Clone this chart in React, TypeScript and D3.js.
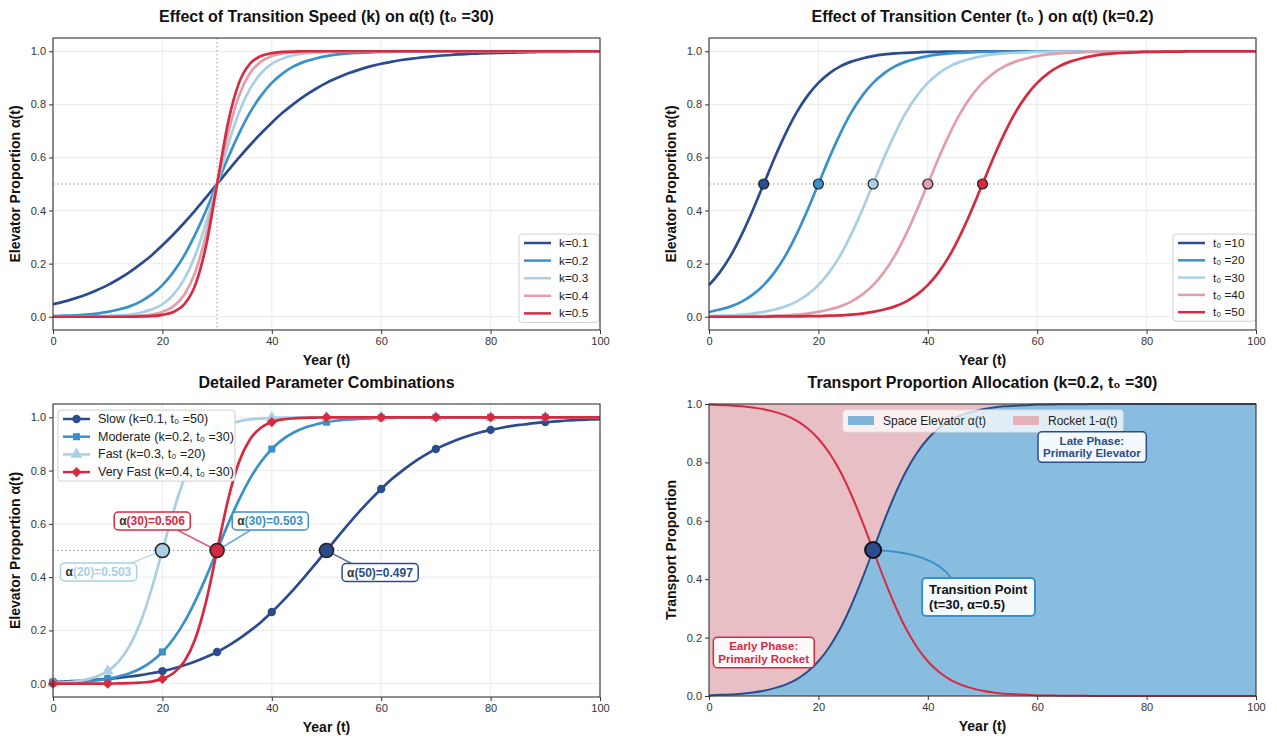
import { useEffect, useRef } from 'react'
import * as d3 from 'd3'

// sample years (every 2 years)
const YEARS = [0, 2, 4, 6, 8, 10, 12, 14, 16, 18, 20, 22, 24, 26, 28, 30, 32, 34, 36, 38, 40, 42, 44, 46, 48, 50,
  52, 54, 56, 58, 60, 62, 64, 66, 68, 70, 72, 74, 76, 78, 80, 82, 84, 86, 88, 90, 92, 94, 96, 98, 100]

// alpha(t) values
const K01_T30 = [0.047, 0.057, 0.069, 0.083, 0.100, 0.119, 0.142, 0.168, 0.198, 0.231, 0.269, 0.310, 0.354, 0.401, 0.450, 0.500,
  0.550, 0.599, 0.646, 0.690, 0.731, 0.769, 0.802, 0.832, 0.858, 0.881, 0.900, 0.917, 0.931, 0.943, 0.953, 0.961, 0.968, 0.973,
  0.978, 0.982, 0.985, 0.988, 0.990, 0.992, 0.993, 0.994, 0.995, 0.996, 0.997, 0.998, 0.998, 0.998, 0.999, 0.999, 0.999]
const K02_T30 = [0.002, 0.004, 0.005, 0.008, 0.012, 0.018, 0.027, 0.039, 0.057, 0.083, 0.119, 0.168, 0.231, 0.310, 0.401, 0.500,
  0.599, 0.690, 0.769, 0.832, 0.881, 0.917, 0.943, 0.961, 0.973, 0.982, 0.988, 0.992, 0.994, 0.996, 0.998, 0.998, 0.999, 0.999,
  0.999, 1, 1, 1, 1, 1, 1, 1, 1, 1, 1, 1, 1, 1, 1, 1, 1]
const K03_T30 = [0, 0, 0, 0.001, 0.001, 0.002, 0.005, 0.008, 0.015, 0.027, 0.047, 0.083, 0.142, 0.231, 0.354, 0.500,
  0.646, 0.769, 0.858, 0.917, 0.953, 0.973, 0.985, 0.992, 0.995, 0.998, 0.999, 0.999,
  1, 1, 1, 1, 1, 1, 1, 1, 1, 1, 1, 1, 1, 1, 1, 1, 1, 1, 1, 1, 1, 1, 1]
const K04_T30 = [0, 0, 0, 0, 0, 0, 0.001, 0.002, 0.004, 0.008, 0.018, 0.039, 0.083, 0.168, 0.310, 0.500,
  0.690, 0.832, 0.917, 0.961, 0.982, 0.992, 0.996, 0.998, 0.999,
  1, 1, 1, 1, 1, 1, 1, 1, 1, 1, 1, 1, 1, 1, 1, 1, 1, 1, 1, 1, 1, 1, 1, 1, 1, 1]
const K05_T30 = [0, 0, 0, 0, 0, 0, 0, 0, 0.001, 0.002, 0.007, 0.018, 0.047, 0.119, 0.269, 0.500,
  0.731, 0.881, 0.953, 0.982, 0.993, 0.998, 0.999,
  1, 1, 1, 1, 1, 1, 1, 1, 1, 1, 1, 1, 1, 1, 1, 1, 1, 1, 1, 1, 1, 1, 1, 1, 1, 1, 1, 1]

const K02_T10 = [0.119, 0.168, 0.231, 0.310, 0.401, 0.500, 0.599, 0.690, 0.769, 0.832, 0.881, 0.917, 0.943, 0.961, 0.973, 0.982,
  0.988, 0.992, 0.994, 0.996, 0.998, 0.998, 0.999, 0.999, 0.999,
  1, 1, 1, 1, 1, 1, 1, 1, 1, 1, 1, 1, 1, 1, 1, 1, 1, 1, 1, 1, 1, 1, 1, 1, 1, 1]
const K02_T20 = [0.018, 0.027, 0.039, 0.057, 0.083, 0.119, 0.168, 0.231, 0.310, 0.401, 0.500, 0.599, 0.690, 0.769, 0.832, 0.881,
  0.917, 0.943, 0.961, 0.973, 0.982, 0.988, 0.992, 0.994, 0.996, 0.998, 0.998, 0.999, 0.999, 0.999,
  1, 1, 1, 1, 1, 1, 1, 1, 1, 1, 1, 1, 1, 1, 1, 1, 1, 1, 1, 1, 1]
const K02_T40 = [0, 0.001, 0.001, 0.001, 0.002, 0.002, 0.004, 0.005, 0.008, 0.012, 0.018, 0.027, 0.039, 0.057, 0.083, 0.119,
  0.168, 0.231, 0.310, 0.401, 0.500, 0.599, 0.690, 0.769, 0.832, 0.881, 0.917, 0.943, 0.961, 0.973, 0.982, 0.988, 0.992, 0.994,
  0.996, 0.998, 0.998, 0.999, 0.999, 1, 1, 1, 1, 1, 1, 1, 1, 1, 1, 1, 1]
const K02_T50 = [0, 0, 0, 0, 0, 0, 0.001, 0.001, 0.001, 0.002, 0.002, 0.004, 0.005, 0.008, 0.012, 0.018, 0.027, 0.039, 0.057,
  0.083, 0.119, 0.168, 0.231, 0.310, 0.401, 0.500, 0.599, 0.690, 0.769, 0.832, 0.881, 0.917, 0.943, 0.961, 0.973, 0.982, 0.988,
  0.992, 0.994, 0.996, 0.998, 0.998, 0.999, 0.999, 1, 1, 1, 1, 1, 1, 1]

const K01_T50 = [0.007, 0.008, 0.010, 0.012, 0.015, 0.018, 0.022, 0.027, 0.032, 0.039, 0.047, 0.057, 0.069, 0.083, 0.100, 0.119,
  0.142, 0.168, 0.198, 0.231, 0.269, 0.310, 0.354, 0.401, 0.450, 0.500, 0.550, 0.599, 0.646, 0.690, 0.731, 0.769, 0.802, 0.832,
  0.858, 0.881, 0.900, 0.917, 0.931, 0.943, 0.953, 0.961, 0.968, 0.973, 0.978, 0.982, 0.985, 0.988, 0.990, 0.992, 0.993]
const K03_T20 = [0.002, 0.005, 0.008, 0.015, 0.027, 0.047, 0.083, 0.142, 0.231, 0.354, 0.500, 0.646, 0.769, 0.858, 0.917, 0.953,
  0.973, 0.985, 0.992, 0.995, 0.998, 0.999, 0.999,
  1, 1, 1, 1, 1, 1, 1, 1, 1, 1, 1, 1, 1, 1, 1, 1, 1, 1, 1, 1, 1, 1, 1, 1, 1, 1, 1, 1]

const X_TICKS = [0, 20, 40, 60, 80, 100]
const Y_TICKS = [0, 0.2, 0.4, 0.6, 0.8, 1.0]

const K_LABELS = ['k=0.1', 'k=0.2', 'k=0.3', 'k=0.4', 'k=0.5']
const K_SERIES = [K01_T30, K02_T30, K03_T30, K04_T30, K05_T30]

const T0_LABELS = ['t₀ =10', 't₀ =20', 't₀ =30', 't₀ =40', 't₀ =50']
const T0_CENTERS = [10, 20, 30, 40, 50]
const T0_SERIES = [K02_T10, K02_T20, K02_T30, K02_T40, K02_T50]

const COMBO_LABELS = ['Slow (k=0.1, t₀ =50)', 'Moderate (k=0.2, t₀ =30)', 'Fast (k=0.3, t₀ =20)', 'Very Fast (k=0.4, t₀ =30)']
const COMBO_SERIES = [K01_T50, K02_T30, K03_T20, K04_T30]
const COMBO_CENTERS = [50, 30, 20, 30]
const COMBO_NOTES = ['(50)=0.497', '(30)=0.503', '(20)=0.503', '(30)=0.506']
const MARK_YEARS = [0, 10, 20, 30, 40, 50, 60, 70, 80, 90]

const ALLOC_ELEVATOR = K02_T30

const FONT = '"Liberation Sans", Arial, Helvetica, sans-serif'
const DARK = '#2b4c8c', MID = '#3a91c9', LIGHT = '#a9cfe6', PINK = '#e09fa9', RED = '#d62a40'
const PALETTE = [DARK, MID, LIGHT, PINK, RED]
const COMBO_COLORS = [DARK, MID, LIGHT, RED]
const COMBO_SYMBOLS = [d3.symbolCircle, d3.symbolSquare, d3.symbolTriangle, d3.symbolSquare]

type G = d3.Selection<SVGGElement, unknown, null, undefined>
type Lin = d3.ScaleLinear<number, number>

function grid(g: G, x: Lin, y: Lin) {
  const [x0, x1] = x.range(), [yb, yt] = y.range()
  X_TICKS.forEach(v => g.append('line').attr('x1', x(v)).attr('x2', x(v)).attr('y1', yt).attr('y2', yb)
    .attr('stroke', '#e6e6e6').attr('stroke-width', 0.8))
  Y_TICKS.forEach(v => g.append('line').attr('x1', x0).attr('x2', x1).attr('y1', y(v)).attr('y2', y(v))
    .attr('stroke', '#e6e6e6').attr('stroke-width', 0.8))
}

function axes(g: G, x: Lin, y: Lin, title: string, ylabel: string) {
  const [x0, x1] = x.range(), [yb, yt] = y.range()
  const style = (a: any) => {
    a.select('.domain').remove()
    a.selectAll('text').attr('font-size', 11).attr('fill', '#333').attr('font-family', FONT)
    a.selectAll('line').attr('stroke', '#333')
  }
  g.append('g').attr('transform', `translate(0,${yb})`)
    .call(d3.axisBottom(x).tickValues(X_TICKS).tickSize(4).tickPadding(3).tickFormat(d3.format('d'))).call(style)
  g.append('g').attr('transform', `translate(${x0},0)`)
    .call(d3.axisLeft(y).tickValues(Y_TICKS).tickSize(4).tickPadding(3).tickFormat(d3.format('.1f'))).call(style)
  g.append('rect').attr('x', x0).attr('y', yt).attr('width', x1 - x0).attr('height', yb - yt)
    .attr('fill', 'none').attr('stroke', '#333').attr('stroke-width', 1.1)
  const cx = (x0 + x1) / 2
  g.append('text').attr('x', cx).attr('y', yt - 16).attr('text-anchor', 'middle').attr('font-family', FONT)
    .attr('font-weight', 'bold').attr('font-size', 16).attr('fill', '#111').text(title)
  g.append('text').attr('x', cx).attr('y', yb + 35).attr('text-anchor', 'middle').attr('font-family', FONT)
    .attr('font-weight', 'bold').attr('font-size', 14).attr('fill', '#111').text('Year (t)')
  g.append('text').attr('transform', `translate(${x0 - 33},${(yt + yb) / 2}) rotate(-90)`).attr('text-anchor', 'middle')
    .attr('font-family', FONT).attr('font-weight', 'bold').attr('font-size', 14).attr('fill', '#111').text(ylabel)
}

function refLine(g: G, x1: number, y1: number, x2: number, y2: number) {
  g.append('line').attr('x1', x1).attr('y1', y1).attr('x2', x2).attr('y2', y2)
    .attr('stroke', '#999').attr('stroke-width', 1).attr('stroke-dasharray', '1.5,2.5')
}

// text box with rounded border; lines are lists of [text, colour] parts
function textBox(g: G, x: number, y: number, lines: [string, string][][], border: string,
  o: { size: number, lh?: number, align?: string, padX?: number, padY?: number, sw?: number }) {
  const box = g.append('g')
  const t = box.append('text').attr('font-family', FONT).attr('font-weight', 'bold').attr('font-size', o.size)
    .attr('text-anchor', o.align ?? 'middle')
  lines.forEach((parts, i) => parts.forEach(([s, c], j) => {
    const ts = t.append('tspan').attr('fill', c).text(s)
    if (j === 0) ts.attr('x', x).attr('y', y + i * (o.lh ?? 0))
  }))
  const bb = (t.node() as SVGTextElement).getBBox()
  const px = o.padX ?? 5, py = o.padY ?? 2
  box.insert('rect', 'text').attr('x', bb.x - px).attr('y', bb.y - py).attr('width', bb.width + 2 * px)
    .attr('height', bb.height + 2 * py).attr('rx', 4).attr('fill', 'white').attr('fill-opacity', 0.9)
    .attr('stroke', border).attr('stroke-width', o.sw ?? 1.5)
}

function legend(g: G, x: number, y: number, w: number, labels: string[], colors: string[], rowH: number, fs: number,
  mark?: (gg: G, i: number, cx: number, cy: number) => void) {
  g.append('rect').attr('x', x).attr('y', y).attr('width', w).attr('height', (labels.length - 1) * rowH + 18).attr('rx', 3)
    .attr('fill', 'white').attr('fill-opacity', 0.9).attr('stroke', '#d0d0d0')
  labels.forEach((l, i) => {
    const cy = y + 9 + i * rowH
    g.append('line').attr('x1', x + 5).attr('x2', x + 32).attr('y1', cy).attr('y2', cy)
      .attr('stroke', colors[i]).attr('stroke-width', 2.5)
    if (mark) mark(g, i, x + 18.5, cy)
    g.append('text').attr('x', x + 40).attr('y', cy + 4).attr('font-family', FONT).attr('font-size', fs)
      .attr('fill', '#222').text(l)
  })
}

export default function App() {
  const ref = useRef<SVGSVGElement>(null)

  useEffect(() => {
    document.body.style.margin = '0'
    const svg = d3.select(ref.current!)
    svg.selectAll('*').remove()
    const root = svg.append('g') as unknown as G

    const xL = d3.scaleLinear().domain([0, 100]).range([53, 600])
    const xR = d3.scaleLinear().domain([0, 100]).range([709, 1256])
    const yTop = d3.scaleLinear().domain([-0.05, 1.05]).range([330, 38])
    const yBot = d3.scaleLinear().domain([-0.05, 1.05]).range([697, 404])
    const yAlloc = d3.scaleLinear().domain([0, 1]).range([696, 404])

    const lineFor = (x: Lin, y: Lin) => d3.line<number>().x((_, i) => x(YEARS[i])).y(v => y(v)).curve(d3.curveMonotoneX)
    const valAt = (s: number[], t: number) => s[YEARS.indexOf(t)]

    // ---- Panel 1: effect of k
    {
      const g = root.append('g') as unknown as G
      grid(g, xL, yTop)
      refLine(g, xL(30), yTop(1.05), xL(30), yTop(-0.05))
      refLine(g, xL(0), yTop(0.5), xL(100), yTop(0.5))
      const line = lineFor(xL, yTop)
      K_SERIES.forEach((s, i) => g.append('path').attr('d', line(s)).attr('fill', 'none')
        .attr('stroke', PALETTE[i]).attr('stroke-width', 2.7))
      legend(g, 519, 234, 80, K_LABELS, PALETTE, 17.6, 11.8)
      axes(g, xL, yTop, 'Effect of Transition Speed (k) on α(t) (t₀ =30)', 'Elevator Proportion α(t)')
    }

    // ---- Panel 2: effect of t0
    {
      const g = root.append('g') as unknown as G
      grid(g, xR, yTop)
      refLine(g, xR(0), yTop(0.5), xR(100), yTop(0.5))
      const line = lineFor(xR, yTop)
      T0_SERIES.forEach((s, i) => g.append('path').attr('d', line(s)).attr('fill', 'none')
        .attr('stroke', PALETTE[i]).attr('stroke-width', 2.7))
      T0_SERIES.forEach((s, i) => g.append('circle').attr('cx', xR(T0_CENTERS[i])).attr('cy', yTop(valAt(s, T0_CENTERS[i])))
        .attr('r', 5).attr('fill', PALETTE[i]).attr('stroke', '#222').attr('stroke-width', 1.2))
      legend(g, 1173, 234, 83, T0_LABELS, PALETTE, 17.3, 11.8)
      axes(g, xR, yTop, 'Effect of Transition Center (t₀ ) on α(t) (k=0.2)', 'Elevator Proportion α(t)')
    }

    // ---- Panel 3: parameter combinations
    {
      const g = root.append('g') as unknown as G
      grid(g, xL, yBot)
      refLine(g, xL(0), yBot(0.5), xL(100), yBot(0.5))
      const line = lineFor(xL, yBot)
      const marker = (gg: G, i: number, cx: number, cy: number) => {
        const size = [55, 50, 60, 52][i]
        gg.append('path').attr('d', d3.symbol(COMBO_SYMBOLS[i], size)()!)
          .attr('transform', `translate(${cx},${cy})${i === 3 ? ' rotate(45)' : ''}`)
          .attr('fill', COMBO_COLORS[i])
      }
      COMBO_SERIES.forEach((s, i) => {
        g.append('path').attr('d', line(s)).attr('fill', 'none').attr('stroke', COMBO_COLORS[i]).attr('stroke-width', 2.7)
        MARK_YEARS.forEach(t => marker(g, i, xL(t), yBot(valAt(s, t))))
      })
      // annotation boxes + connectors
      const noteLayout = [
        { dx: 53.5, dy: 26, ax: 25, ay: 13 },
        { dx: 53, dy: -25.5, ax: 33, ay: -20 },
        { dx: -64, dy: 25.5, ax: -32, ay: 13 },
        { dx: -65, dy: -25.5, ax: -39, ay: -20 },
      ]
      COMBO_SERIES.forEach((s, i) => {
        const px = xL(COMBO_CENTERS[i]), py = yBot(valAt(s, COMBO_CENTERS[i])), L = noteLayout[i]
        g.append('line').attr('x1', px + L.ax).attr('y1', py + L.ay).attr('x2', px).attr('y2', py)
          .attr('stroke', COMBO_COLORS[i]).attr('stroke-width', 1.5).attr('stroke-opacity', 0.75)
      })
      COMBO_SERIES.forEach((s, i) => {
        if (i === 1) return
        g.append('circle').attr('cx', xL(COMBO_CENTERS[i])).attr('cy', yBot(valAt(s, COMBO_CENTERS[i])))
          .attr('r', 7).attr('fill', COMBO_COLORS[i]).attr('stroke', '#222').attr('stroke-width', 1.6)
      })
      COMBO_SERIES.forEach((s, i) => {
        const px = xL(COMBO_CENTERS[i]), py = yBot(valAt(s, COMBO_CENTERS[i])), L = noteLayout[i]
        textBox(g, px + L.dx, py + L.dy, [[['α', '#333'], [COMBO_NOTES[i], COMBO_COLORS[i]]]], COMBO_COLORS[i],
          { size: 12, padX: 5, padY: 2 })
      })
      legend(g, 58, 410, 177, COMBO_LABELS, COMBO_COLORS, 17.7, 12.5, marker)
      axes(g, xL, yBot, 'Detailed Parameter Combinations', 'Elevator Proportion α(t)')
    }

    // ---- Panel 4: allocation
    {
      const g = root.append('g') as unknown as G
      const x = xR, y = yAlloc
      const elev = d3.area<number>().x((_, i) => x(YEARS[i])).y0(y(0)).y1(v => y(v)).curve(d3.curveMonotoneX)
      const rock = d3.area<number>().x((_, i) => x(YEARS[i])).y0(v => y(v)).y1(y(1)).curve(d3.curveMonotoneX)
      g.append('path').attr('d', rock(ALLOC_ELEVATOR)).attr('fill', '#e9bfc6')
      g.append('path').attr('d', elev(ALLOC_ELEVATOR)).attr('fill', '#88bde0')
      const line = lineFor(x, y)
      g.append('path').attr('d', line(ALLOC_ELEVATOR)).attr('fill', 'none').attr('stroke', DARK).attr('stroke-width', 2)
      g.append('path').attr('d', line(ALLOC_ELEVATOR.map(v => 1 - v))).attr('fill', 'none').attr('stroke', RED).attr('stroke-width', 2)

      // legend
      g.append('rect').attr('x', 843).attr('y', 410).attr('width', 280).attr('height', 22).attr('rx', 3)
        .attr('fill', 'white').attr('fill-opacity', 0.75).attr('stroke', '#e0e0e0')
      g.append('rect').attr('x', 848).attr('y', 416).attr('width', 26).attr('height', 9).attr('fill', '#7fb5dc')
      g.append('text').attr('x', 883).attr('y', 425).attr('font-family', FONT).attr('font-size', 12).attr('fill', '#222')
        .text('Space Elevator α(t)')
      g.append('rect').attr('x', 1013).attr('y', 416).attr('width', 26).attr('height', 9).attr('fill', '#e5b2ba')
      g.append('text').attr('x', 1048).attr('y', 425).attr('font-family', FONT).attr('font-size', 12).attr('fill', '#222')
        .text('Rocket 1-α(t)')

      // transition point
      const px = x(30), py = y(valAt(ALLOC_ELEVATOR, 30))
      g.append('path').attr('d', `M${px},${py} Q${px + 60},${py + 2} ${px + 78},${py + 28}`)
        .attr('fill', 'none').attr('stroke', MID).attr('stroke-width', 1.8)
      g.append('circle').attr('cx', px).attr('cy', py).attr('r', 8).attr('fill', DARK).attr('stroke', '#111').attr('stroke-width', 2)
      textBox(g, px + 56, py + 44, [[['Transition Point', '#111']], [['(t=30, α=0.5)', '#111']]], MID,
        { size: 13, lh: 15, align: 'start', padX: 7, padY: 4, sw: 2 })
      textBox(g, x(70), y(0.85) - 3, [[['Late Phase:', DARK]], [['Primarily Elevator', DARK]]], DARK,
        { size: 11.5, lh: 12.5, padX: 5, padY: 3 })
      textBox(g, x(10), y(0.15) - 2, [[['Early Phase:', RED]], [['Primarily Rocket', RED]]], RED,
        { size: 11.5, lh: 12.5, padX: 5, padY: 3 })

      axes(g, x, y, 'Transport Proportion Allocation (k=0.2, t₀ =30)', 'Transport Proportion')
    }
  }, [])

  return <svg ref={ref} width={1277} height={740} style={{ display: 'block', background: 'white' }} />
}
